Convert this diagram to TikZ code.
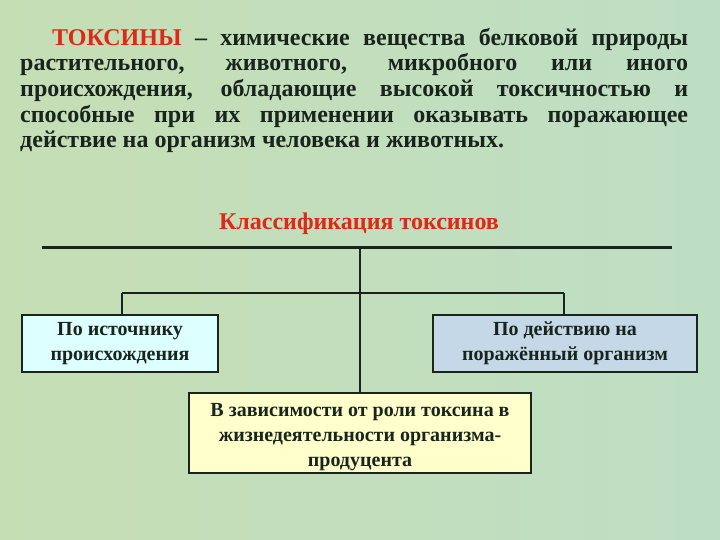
\documentclass[tikz,border=0pt]{standalone}
\usepackage{fontspec}
\setmainfont{Liberation Serif}
\usetikzlibrary{positioning}

\definecolor{fondo}{RGB}{198,222,180}
\definecolor{fondob}{RGB}{190,222,196}
\definecolor{rosso}{RGB}{222,40,24}
\definecolor{linea}{RGB}{24,36,28}
\definecolor{azzurro}{RGB}{222,255,255}
\definecolor{grigioblu}{RGB}{196,216,232}
\definecolor{giallo}{RGB}{255,255,204}

\tikzset{
  tipo/.style={draw=linea, line width=2pt, inner sep=0pt, align=center,
    font=\fontsize{20}{24.8}\selectfont\bfseries, text=linea},
  ramo/.style={draw=linea, line width=1.6pt},
}

\begin{document}
\begin{tikzpicture}[x=1pt,y=-1pt]
    % Sfondo
    \shade[left color=fondo, right color=fondob] (0,0) rectangle (720,540);
    \useasboundingbox (0,0) rectangle (720,540);

    % Definizione
    \node[anchor=north west, inner sep=0pt, text width=668pt, align=justify,
          font=\fontsize{24}{25.6}\selectfont\bfseries, text=linea] (def) at (20,28)
    {\hspace*{32pt}{\color{rosso}ТОКСИНЫ} – химические вещества белковой природы\linebreak
     растительного, животного, микробного или иного\linebreak
     происхождения, обладающие высокой токсичностью и\linebreak
     способные при их применении оказывать поражающее\linebreak
     действие на организм человека и животных.};

    % Titolo
    \node[font=\fontsize{24}{28}\selectfont\bfseries, text=rosso] (titolo) at (359,224)
      {Классификация токсинов};

    % Caselle
    \node[tipo, fill=azzurro, minimum width=196pt, minimum height=57pt] (fonte) at (120,343.5)
      {По источнику\\происхождения};
    \node[tipo, fill=grigioblu, minimum width=264pt, minimum height=57pt] (azione) at (565,343.5)
      {По действию на\\поражённый организм};
    \node[tipo, fill=giallo, minimum width=342pt, minimum height=80pt,
          text height=71pt, text depth=5pt] (ruolo) at (360,433)
      {В зависимости от роли токсина в\\жизнедеятельности организма-\\продуцента};

    % Linee
    \coordinate (barS) at (42,247);
    \coordinate (barD) at (672,247);
    \coordinate (barC) at (360,247);
    \coordinate (nodoS) at (122,293);
    \coordinate (nodoD) at (564,293);
    \draw[draw=linea, line width=3pt] (barS) -- (barD);
    \draw[ramo] (barC) -- (ruolo.north);
    \draw[ramo] (nodoS) -- (nodoD);
    \draw[ramo] (nodoS) -- (nodoS |- fonte.north);
    \draw[ramo] (nodoD) -- (nodoD |- azione.north);
\end{tikzpicture}
\end{document}
